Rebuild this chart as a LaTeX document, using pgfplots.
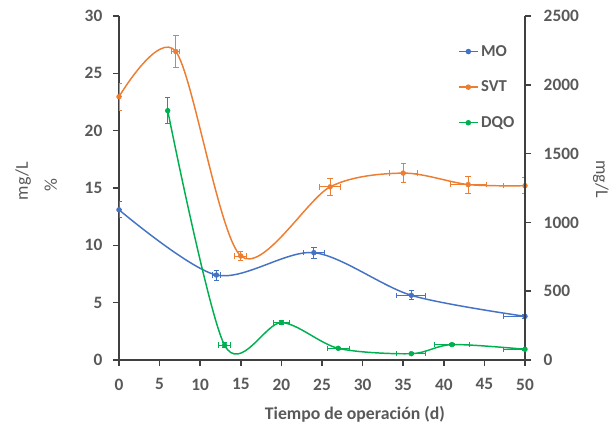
\documentclass[border=0pt]{standalone}
\usepackage{fontspec}
\setmainfont{Carlito}
\usepackage{pgfplots}
\pgfplotsset{compat=1.18}
\definecolor{cMO}{HTML}{4472C4}
\definecolor{cSVT}{HTML}{ED7D31}
\definecolor{cDQO}{HTML}{00B050}
\definecolor{txt}{HTML}{595959}
\definecolor{axl}{HTML}{404040}
\pgfplotsset{
  base/.style={
    scale only axis, width=304.5pt, height=258pt,
    at={(0,0)}, anchor=south west,
    xmin=0, xmax=50, clip mode=individual,
    tick align=outside, major tick length=4.5pt,
    /pgf/number format/assume math mode=true,
    /pgf/number format/1000 sep={},
    ticklabel style={font=\fontsize{13}{15}\selectfont\bfseries, text=txt},
    axis line style={axl, line width=1.1pt},
    every tick/.style={axl, line width=1.1pt},
  },
  ser/.style={color=#1, line width=1.1pt, mark=*, mark size=1.8pt,
    mark options={fill=#1, draw=#1, line width=0.4pt}, smooth,
    error bars/.cd, x dir=both, x explicit, y dir=both, y explicit,
    error bar style={draw=#1, color=#1, line width=0.7pt},
    error mark options={draw=#1, color=#1, line width=0.7pt, mark size=2pt, rotate=90}},
}
\begin{document}
\begin{tikzpicture}
\path[use as bounding box] (-89.25pt,-49.5pt) rectangle (372.75pt,270pt);
\begin{axis}[base,
  ymin=0, ymax=30, ytick={0,5,...,30}, xtick={0,5,...,50},
  axis x line*=bottom, axis y line*=left,
  yticklabel style={xshift=-4.5pt},
  xticklabel style={yshift=-6pt},
]
\addplot[ser=cMO] table[x=x, y=y, x error=ex, y error=ey] {
x y ex ey
0 13.1 0 0.7
12 7.41 0.5 0.44
24 9.36 1.3 0.48
36 5.64 1.8 0.4
50 3.81 2.6 0.15
};
\addplot[ser=cSVT] table[x=x, y=y, x error=ex, y error=ey] {
x y ex ey
0 22.96 0 1.16
7 26.9 0.5 1.37
15 9.07 0.75 0.4
26 15.1 1.3 0.75
35 16.3 1.7 0.8
43 15.3 2.2 0.75
50 15.2 2.6 0.7
};
\node[rotate=90, font=\fontsize{13.5}{15}\selectfont, text=txt] at (rel axis cs:-0.236,0.52) {mg/L};
\node[rotate=90, font=\fontsize{13.5}{15}\selectfont, text=txt] at (rel axis cs:-0.168,0.509) {\%};
\node[rotate=-90, font=\fontsize{13.5}{15}\selectfont, text=txt] at (rel axis cs:1.187,0.526) {mg/L};
\node[font=\fontsize{13.3}{15}\selectfont\bfseries, text=txt] at (rel axis cs:0.581,-0.157) {Tiempo de operación (d)};
\end{axis}
\begin{axis}[base,
  ymin=0, ymax=2500, ytick={0,500,...,2500},
  axis x line=none, axis y line*=right,
  yticklabel style={xshift=6pt},
  legend style={at={(0.835,0.924)}, anchor=north west, draw=none, fill=none,
    font=\fontsize{12.5}{14}\selectfont\bfseries, text=txt, row sep=13pt, inner sep=0pt},
  legend cell align=left,
  legend image code/.code={\draw[#1, mark repeat=2, mark phase=2] plot coordinates {(0pt,0pt) (7pt,0pt) (14pt,0pt)};},
]
\addlegendimage{color=cMO, line width=1.1pt, mark=*, mark size=1.5pt, mark options={fill=cMO}}
\addlegendentry{MO}
\addlegendimage{color=cSVT, line width=1.1pt, mark=*, mark size=1.5pt, mark options={fill=cSVT}}
\addlegendentry{SVT}
\addplot[forget plot, ser=cDQO] table[x=x, y=y, x error=ex, y error=ey] {
x y ex ey
6 1812 0 93
13 108 0.75 17
20 272 1.0 12
27 85 1.35 8
36 46 1.8 8
41 112 2.1 8
50 78 2.6 8
};
\addlegendimage{color=cDQO, line width=1.1pt, mark=*, mark size=1.5pt, mark options={fill=cDQO}}
\addlegendentry{DQO}
\end{axis}
\end{tikzpicture}
\end{document}
